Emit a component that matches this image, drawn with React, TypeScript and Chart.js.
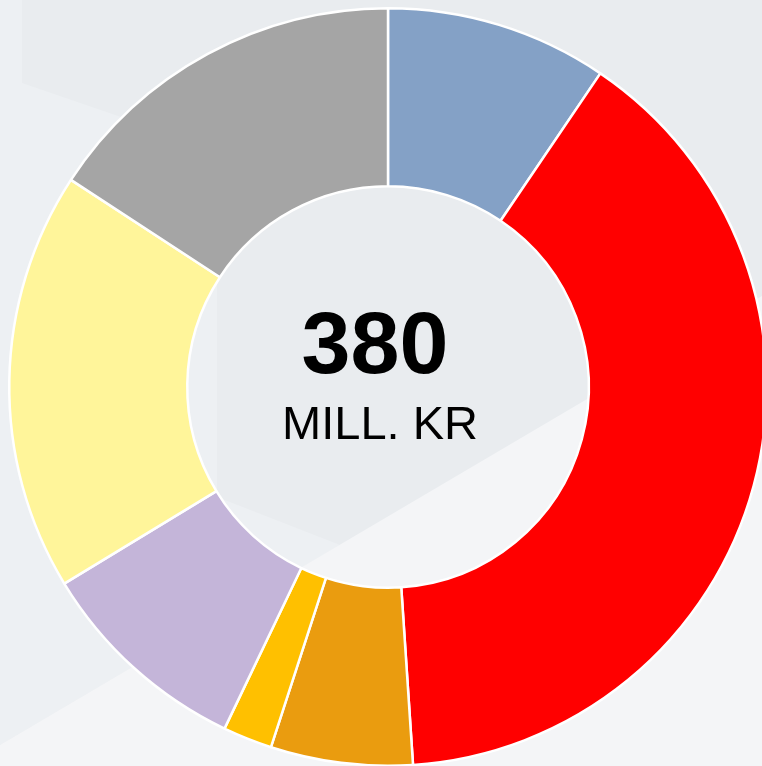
import React, { useEffect, useRef } from "react";
import { Chart, registerables } from "chart.js";

Chart.register(...registerables);

const categories = ["Kategori 1", "Kategori 2", "Kategori 3", "Kategori 4", "Kategori 5", "Kategori 6", "Kategori 7"];
const values = [36, 150, 23, 8, 35, 68, 60];
const colors = ["#84A1C6", "#FF0000", "#EA9C0F", "#FFC000", "#C4B5D9", "#FFF59A", "#A5A5A5"];
const totalLabel = "380";
const unitLabel = "MILL. KR";

const bgPlugin = {
  id: "bg",
  beforeDraw(chart: any) {
    const ctx = chart.ctx;
    ctx.save();
    ctx.fillStyle = "#E9ECEF";
    ctx.fillRect(0, 0, chart.width, chart.height);
    ctx.fillStyle = "#EDF0F3";
    ctx.beginPath();
    ctx.moveTo(0, 0);
    ctx.lineTo(22, 0);
    ctx.lineTo(22, 83);
    ctx.lineTo(217, 150);
    ctx.lineTo(217, 497);
    ctx.lineTo(340, 545);
    ctx.lineTo(0, 745);
    ctx.closePath();
    ctx.fill();
    ctx.fillStyle = "#F4F5F7";
    ctx.beginPath();
    ctx.moveTo(0, 745);
    ctx.lineTo(762, 296);
    ctx.lineTo(800, 296);
    ctx.lineTo(800, 800);
    ctx.lineTo(0, 800);
    ctx.closePath();
    ctx.fill();
    ctx.restore();
  },
};

const centerText = {
  id: "centerText",
  afterDraw(chart: any) {
    const meta = chart.getDatasetMeta(0);
    const arc = meta.data[0];
    if (!arc) return;
    const cx = arc.x;
    const cy = arc.y;
    const ctx = chart.ctx;
    ctx.save();
    ctx.fillStyle = "#000000";
    ctx.textAlign = "center";
    ctx.textBaseline = "alphabetic";
    ctx.font = "bold 88px 'Liberation Sans', Arial, sans-serif";
    ctx.fillText(totalLabel, cx - 13, cy - 14);
    ctx.font = "47px 'Liberation Sans', Arial, sans-serif";
    ctx.fillText(unitLabel, cx - 8, cy + 52);
    ctx.restore();
  },
};

export default function App() {
  const ref = useRef<HTMLCanvasElement>(null);
  useEffect(() => {
    if (!ref.current) return;
    const chart = new Chart(ref.current, {
      type: "doughnut",
      data: {
        labels: categories,
        datasets: [
          {
            data: values,
            backgroundColor: colors,
            borderColor: "#FFFFFF",
            borderWidth: 2.5,
            hoverOffset: 0,
          },
        ],
      },
      options: {
        responsive: false,
        animation: false,
        cutout: "53%",
        layout: { padding: { left: 8, right: 8, top: 7, bottom: 9 } },
        plugins: {
          legend: { display: false },
          tooltip: { enabled: false },
        },
      },
      plugins: [bgPlugin, centerText],
    });
    return () => chart.destroy();
  }, []);
  return (
    <div
      style={{
        position: "fixed",
        left: 0,
        top: 0,
        width: 762,
        height: 766,
        overflow: "hidden",
        background: "#E9ECEF",
      }}
    >
      <canvas ref={ref} width={776} height={776} style={{ width: 776, height: 776, display: "block" }} />
    </div>
  );
}
